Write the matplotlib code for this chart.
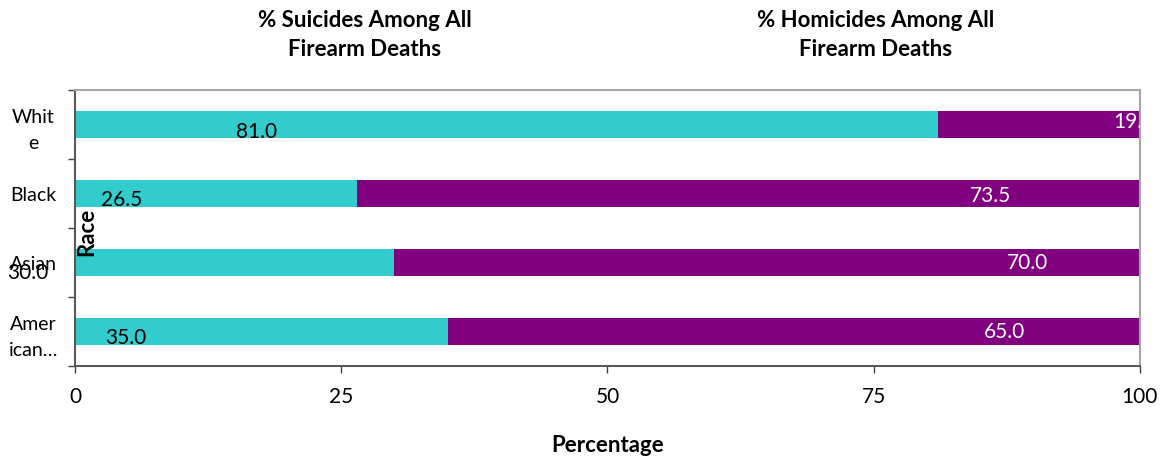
import matplotlib
matplotlib.use('Agg')
import matplotlib.pyplot as plt

plt.rcParams['font.family'] = ['Lato', 'DejaVu Sans']

# dados (de baixo para cima)
racas = ['Amer\nican…', 'Asian', 'Black', 'Whit\ne']
suicidios = [35.0, 30.0, 26.5, 81.0]
homicidios = [65.0, 70.0, 73.5, 19.0]
legenda = ['% Suicides Among All\nFirearm Deaths', '% Homicides Among All\nFirearm Deaths']

# posicao dos rotulos (arrastados a mao no original)
pos_lab_suic = [4.8, -4.4, 4.4, 17.1]
desl_lab_suic = [-0.095, -0.145, -0.095, -0.11]
pos_lab_homi = [87.3, 89.4, 86.0, 97.5]
desl_lab_homi = [0.0, 0.0, -0.035, 0.035]

ciano = '#33CCCC'
roxo = '#800080'

fig = plt.figure(figsize=(11.62, 4.57), dpi=100)
ax = fig.add_axes([0.0645, 0.199, 0.9165, 0.604])

y = list(range(len(racas)))
ax.barh(y, suicidios, height=0.4, color=ciano, edgecolor='none')
ax.barh(y, homicidios, left=suicidios, height=0.4, color=roxo, edgecolor='none')

for i in y:
    ax.text(pos_lab_suic[i], i + desl_lab_suic[i], f'{suicidios[i]:.1f}',
            ha='center', va='center', fontsize=15, color='black', clip_on=False)
    ha = 'left' if pos_lab_homi[i] > 95 else 'center'
    ax.text(pos_lab_homi[i], i + desl_lab_homi[i], f'{homicidios[i]:.1f}',
            ha=ha, va='center', fontsize=15, color='white', clip_on=True)

ax.set_xlim(0, 100)
ax.set_ylim(-0.5, len(racas) - 0.5)
ax.set_xticks([0, 25, 50, 75, 100])
ax.tick_params(axis='x', labelsize=15, length=5, width=1, color='#404040', pad=10)

ax.set_yticks([k - 0.5 for k in range(len(racas) + 1)])
ax.set_yticklabels([])
ax.set_yticks(y, minor=True)
ax.set_yticklabels(racas, minor=True, fontsize=14, ha='center', linespacing=1.65)
ax.tick_params(axis='y', which='major', length=5, width=1, color='#404040')
ax.tick_params(axis='y', which='minor', length=0, pad=30)

for s in ['left', 'bottom']:
    ax.spines[s].set_color('#595959')
    ax.spines[s].set_linewidth(1.5)
for s in ['top', 'right']:
    ax.spines[s].set_color('#A6A6A6')
    ax.spines[s].set_linewidth(1.5)

ax.set_xlabel('Percentage', fontsize=16, fontweight='bold')
ax.xaxis.set_label_coords(0.5, -0.25)
ax.set_ylabel('Race', fontsize=16, fontweight='bold')
ax.yaxis.set_label_coords(0.021, 0.485)

fig.text(365 / 1162, 1 - 35 / 457, legenda[0], ha='center', va='center',
         fontsize=16, fontweight='bold', linespacing=1.5)
fig.text(876 / 1162, 1 - 35 / 457, legenda[1], ha='center', va='center',
         fontsize=16, fontweight='bold', linespacing=1.5)

fig.savefig('out.png', dpi=100)
